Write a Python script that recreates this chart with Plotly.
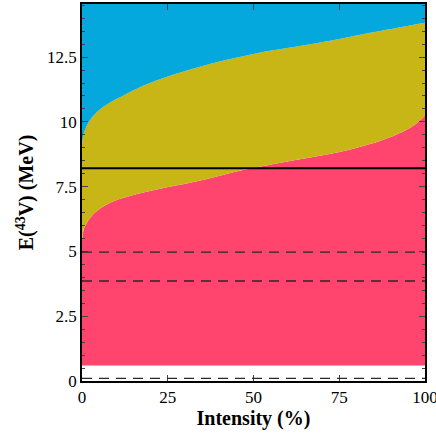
import plotly.graph_objects as go

lower_x = [0, 0.5, 1.4, 3.8, 8.2, 14, 22.5, 28.6, 36.7, 48, 63.6, 73.3, 83, 90.8, 95.7, 98.5, 100]
lower_y = [5.4, 5.85, 6.1, 6.5, 6.88, 7.14, 7.41, 7.57, 7.81, 8.17, 8.56, 8.79, 9.11, 9.46, 9.77, 10.05, 10.25]

upper_x = [0, 0.5, 1.4, 2.5, 3.8, 5.2, 8.2, 12.5, 17, 22.7, 34.4, 50, 69.4, 84, 100]
upper_y = [9.1, 9.55, 9.85, 10.1, 10.3, 10.48, 10.75, 11.05, 11.35, 11.65, 12.13, 12.62, 13.06, 13.44, 13.83]

floor_level = 0.6
y_max = 14.55
solid_levels = [8.21]
dashed_levels = [4.97, 3.86, 0.1]

x_ticks = [0, 25, 50, 75, 100]
y_ticks = [0, 2.5, 5, 7.5, 10, 12.5]
y_tick_text = ["0", "2.5", "5", "7.5", "10", "12.5"]

PINK = "rgb(255,68,110)"
OLIVE = "rgb(200,181,22)"
BLUE = "rgb(5,168,220)"

fig = go.Figure()
fig.add_trace(go.Scatter(x=[0, 100], y=[floor_level, floor_level], mode="lines",
                         line=dict(width=0, color=PINK), showlegend=False, hoverinfo="skip"))
fig.add_trace(go.Scatter(x=lower_x, y=lower_y, mode="lines", fill="tonexty", fillcolor=PINK,
                         line=dict(width=0, color=PINK, shape="spline", smoothing=1.0),
                         showlegend=False, hoverinfo="skip"))
fig.add_trace(go.Scatter(x=upper_x, y=upper_y, mode="lines", fill="tonexty", fillcolor=OLIVE,
                         line=dict(width=0, color=OLIVE, shape="spline", smoothing=1.0),
                         showlegend=False, hoverinfo="skip"))
fig.add_trace(go.Scatter(x=[0, 100], y=[y_max, y_max], mode="lines", fill="tonexty", fillcolor=BLUE,
                         line=dict(width=0, color=BLUE), showlegend=False, hoverinfo="skip"))

for lv in solid_levels:
    fig.add_shape(type="line", xref="paper", x0=0, x1=1, yref="y", y0=lv, y1=lv,
                  line=dict(color="black", width=2))
for lv in dashed_levels:
    fig.add_shape(type="line", xref="paper", x0=0, x1=1, yref="y", y0=lv, y1=lv,
                  line=dict(color="rgb(40,40,40)", width=1.3, dash="10px,7px"))

font = "Liberation Serif, Times New Roman, serif"
fig.update_layout(
    width=436, height=434,
    margin=dict(l=82, r=11, t=4, b=53, autoexpand=False),
    plot_bgcolor="white", paper_bgcolor="white",
    font=dict(family=font, size=17, color="black"),
    showlegend=False,
)
fig.update_xaxes(
    range=[0, 100], tickvals=x_ticks, ticks="inside", ticklen=6, tickwidth=1,
    showline=True, linecolor="black", linewidth=1.5, mirror="ticks",
    showgrid=False, zeroline=False, automargin=False, ticklabeloverflow="allow",
    title=dict(text="<b>Intensity (%)</b>", font=dict(size=20, family=font), standoff=4),
    tickfont=dict(size=17, family=font),
)
fig.update_yaxes(
    range=[0, y_max], tickvals=y_ticks, ticktext=y_tick_text, ticks="inside", ticklen=6, tickwidth=1,
    minor=dict(dtick=0.5, ticks="inside", ticklen=3, tickwidth=1, showgrid=False),
    showline=True, linecolor="black", linewidth=1.5, mirror="ticks",
    showgrid=False, zeroline=False, automargin=False, ticklabeloverflow="allow",
    title=dict(text="<b>E(<sup>43</sup>V) (MeV)</b>", font=dict(size=20, family=font), standoff=8),
    tickfont=dict(size=17, family=font),
)
fig.write_html("out.html", config={"displayModeBar": False},
               post_script="document.body.style.margin='0px';document.body.style.overflow='hidden';")
